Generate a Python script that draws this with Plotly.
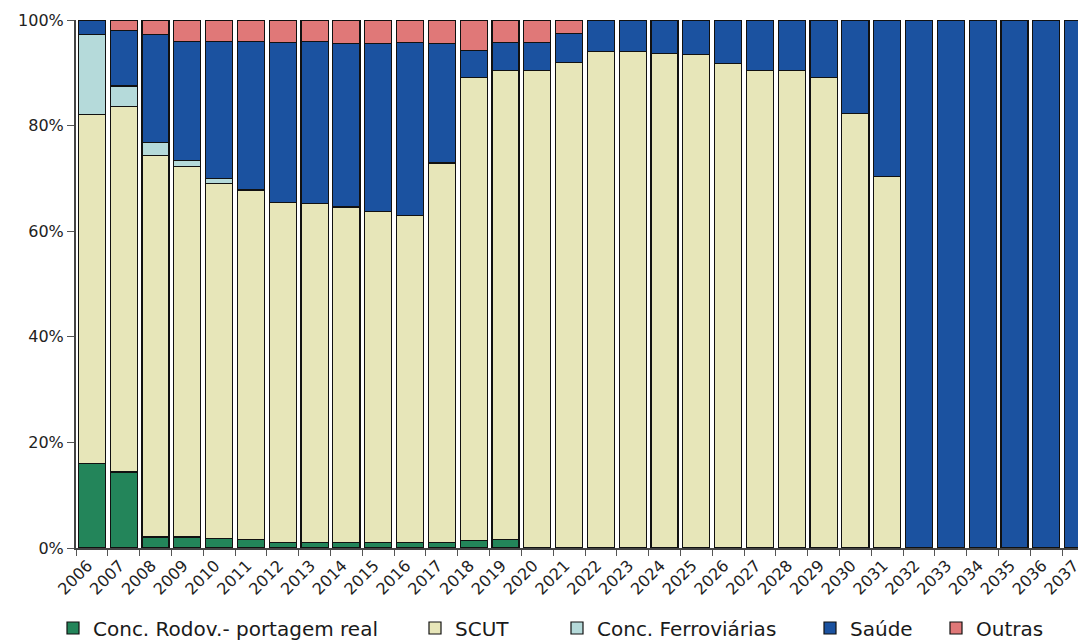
import plotly.graph_objects as go

years = [str(y) for y in range(2006, 2038)]

rodov = [16.0, 14.4, 2.1, 2.1, 1.8, 1.6, 1.1, 1.1, 1.1, 1.1, 1.1, 1.1, 1.4, 1.6,
         0, 0, 0, 0, 0, 0, 0, 0, 0, 0, 0, 0, 0, 0, 0, 0, 0, 0]
scut = [66.1, 69.2, 72.3, 70.2, 67.2, 66.2, 64.4, 64.2, 63.5, 62.7, 61.8, 71.8, 87.7, 88.8,
        90.4, 92.0, 94.1, 94.1, 93.6, 93.4, 91.8, 90.4, 90.4, 89.1, 82.3, 70.3,
        0, 0, 0, 0, 0, 0]
ferro = [15.1, 3.9, 2.4, 1.1, 1.0, 0, 0, 0, 0, 0, 0, 0, 0, 0,
         0, 0, 0, 0, 0, 0, 0, 0, 0, 0, 0, 0, 0, 0, 0, 0, 0, 0]
saude = [2.8, 10.5, 20.5, 22.5, 25.9, 28.1, 30.2, 30.6, 30.9, 31.8, 32.8, 22.6, 5.2, 5.3,
         5.3, 5.5, 5.9, 5.9, 6.4, 6.6, 8.2, 9.6, 9.6, 10.9, 17.7, 29.7,
         100, 100, 100, 100, 100, 100]
outras = [0, 2.0, 2.7, 4.1, 4.1, 4.1, 4.3, 4.1, 4.5, 4.4, 4.3, 4.5, 5.7, 4.3,
          4.3, 2.5, 0, 0, 0, 0, 0, 0, 0, 0, 0, 0, 0, 0, 0, 0, 0, 0]

y_ticks = [0, 20, 40, 60, 80, 100]
y_labels = ["0%", "20%", "40%", "60%", "80%", "100%"]

series = [
    ("Conc. Rodov.- portagem real", rodov, "#23855a", "legend"),
    ("SCUT", scut, "#e7e6b9", "legend2"),
    ("Conc. Ferroviárias", ferro, "#b5dada", "legend3"),
    ("Saúde", saude, "#1b52a0", "legend4"),
    ("Outras", outras, "#e07878", "legend5"),
]

FONT = "DejaVu Sans, Verdana, sans-serif"

fig = go.Figure()
for name, vals, color, lg in series:
    fig.add_trace(go.Bar(
        x=years, y=vals, name=name,
        marker=dict(color=color, line=dict(color="#111111", width=1.2)),
        legend=lg,
    ))

# legend left edges in figure pixels (page body has an 8px margin)
legend_x = [45, 407, 549, 802, 928]
legend_common = dict(
    orientation="h", xref="container", yref="container",
    y=1 - 620 / 644, yanchor="middle", xanchor="left",
    font=dict(family=FONT, size=20, color="#1a1a1a"),
    bgcolor="rgba(0,0,0,0)", itemclick=False, itemdoubleclick=False,
)
legends = {}
for i, key in enumerate(["legend", "legend2", "legend3", "legend4", "legend5"]):
    legends[key] = dict(x=legend_x[i] / 1086, **legend_common)

fig.update_layout(
    width=1086, height=644,
    barmode="stack", bargap=0.15,
    paper_bgcolor="white", plot_bgcolor="white",
    margin=dict(l=68, r=0, t=12, b=104, autoexpand=False),
    font=dict(family=FONT, size=15, color="#222222"),
    showlegend=True,
    **legends,
)
fig.update_xaxes(
    type="category", range=[-0.5, 31.5], automargin=False,
    tickangle=-45, tickson="boundaries", ticks="outside", ticklen=6,
    tickcolor="#555555", showline=True, linecolor="#444444", linewidth=2,
    showgrid=False, tickfont=dict(family=FONT, size=16, color="#222222"),
    ticklabelshift=-4, ticklabelstandoff=0,
)
fig.update_yaxes(
    range=[0, 100], tickvals=y_ticks, ticktext=y_labels, automargin=False,
    ticks="outside", ticklen=7, tickcolor="#555555",
    showline=True, linecolor="#444444", linewidth=2, showgrid=False,
    zeroline=False, tickfont=dict(family=FONT, size=16, color="#222222"),
)

fig.write_html("out.html")
